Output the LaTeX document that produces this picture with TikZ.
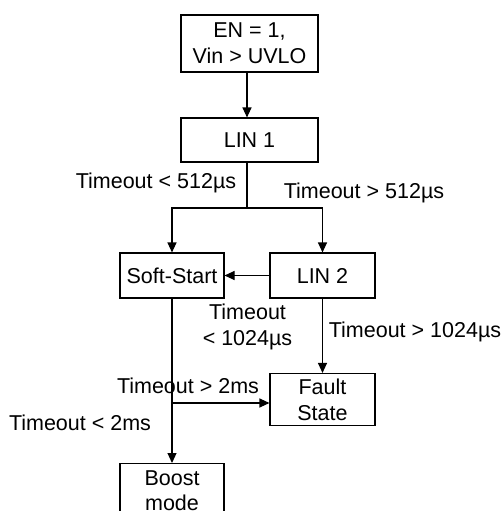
\documentclass[tikz,border=0pt]{standalone}
\usepackage{fontspec}
\setmainfont{Liberation Sans}
\usetikzlibrary{arrows.meta}
\begin{document}
\begin{tikzpicture}[x=1pt,y=-1pt,
  every node/.style={font=\fontsize{21.5}{26}\selectfont},
  box/.style={draw,line width=1.1pt,minimum width=#1,inner sep=0pt,align=center},
  lbl/.style={inner sep=0pt,align=center},
  conn/.style={line width=1.1pt},
  arr/.style={conn,-{Triangle[length=10pt,width=9pt]}}]
\useasboundingbox (0,0) rectangle (503,511);
\clip (0,0) rectangle (503,511);
\node[box=137pt,minimum height=57pt] (en) at (249.5,43.5) {EN = 1,\\Vin > UVLO};
\node[box=137pt,minimum height=44pt] (lin1) at (249.5,140) {LIN 1};
\node[box=104pt,minimum height=45pt] (ss) at (172,275.5) {Soft-Start};
\node[box=105pt,minimum height=45pt] (lin2) at (322.5,275.5) {LIN 2};
\node[box=105pt,minimum height=52pt] (fault) at (322.5,399.5) {Fault\\State};
\node[box=104pt,minimum height=54pt,anchor=north] (boost) at (172,463) {Boost\\[-1.5pt]mode};
\coordinate (split) at (247,208);
\coordinate (ssplit) at (172,403);
\draw[arr] (en.south -| split) -- (lin1.north -| split);
\draw[conn] (lin1.south -| split) -- (split);
\draw[arr] (split) -| (ss.north);
\draw[arr] (split) -| (lin2.north);
\draw[arr] (lin2.west) -- (ss.east);
\draw[arr] (lin2.south) -- (fault.north);
\draw[arr] (ss.south) -- (boost.north);
\draw[arr] (ssplit) -- (ssplit -| fault.west);
\node[lbl] (l1) at (156,183) {Timeout < 512µs};
\node[lbl] (l2) at (364,193) {Timeout > 512µs};
\node[lbl] (l3) at (247.5,326.5) {Timeout\\< 1024µs};
\node[lbl] (l4) at (415,332) {Timeout > 1024µs};
\node[lbl] (l5) at (188,386) {Timeout > 2ms};
\node[lbl] (l6) at (80,423) {Timeout < 2ms};
\end{tikzpicture}
\end{document}
